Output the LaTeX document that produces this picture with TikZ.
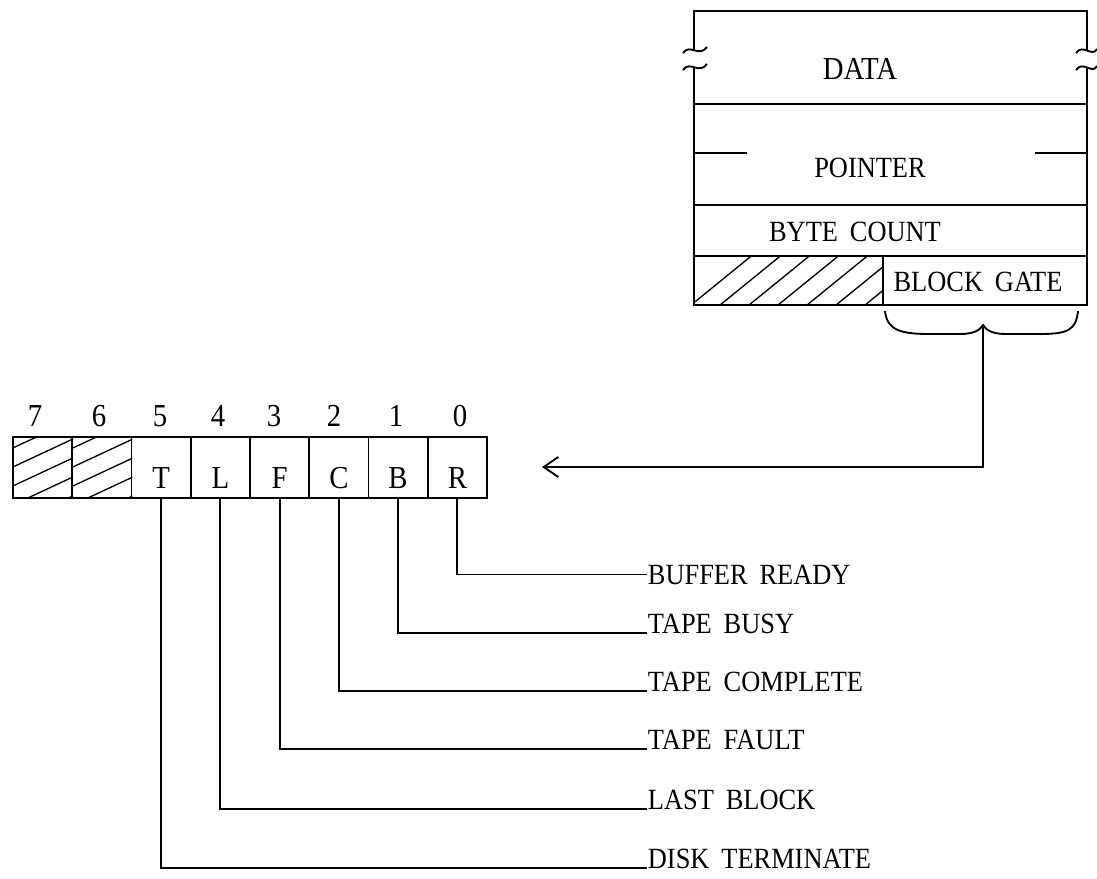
\documentclass[tikz,border=0pt]{standalone}
\usepackage{fontspec}
\setmainfont{Liberation Serif}[FakeStretch=0.9,WordSpace=1.8]
\usetikzlibrary{arrows.meta}
\begin{document}
\begin{tikzpicture}[x=0.75pt,y=-0.75pt,line width=1.4pt,
  txt/.style={inner sep=0pt,font=\fontsize{22}{26}\selectfont},
  big/.style={inner sep=0pt,font=\fontsize{24}{28}\selectfont},
  cellbox/.style={draw,inner sep=0pt,minimum width=44.44pt,minimum height=45.75pt},
  lbl/.style={txt,anchor=base west},
  leader/.style={line width=1.4pt},
  hatch/.style={line width=1pt}]
\useasboundingbox (0,0) rectangle (1097,879);

% ---------- memory block ----------
\draw (694,50) -- (694,11) -- (1087,11) -- (1087,50);
\draw (694,68) -- (694,305) -- (1087,305) -- (1087,68);
\draw (683,53) .. controls (690,43) and (699,58) .. (707,47);
\draw (683,70) .. controls (690,60) and (699,75) .. (707,64);
\draw (1076,53) .. controls (1083,43) and (1092,58) .. (1097,49);
\draw (1076,70) .. controls (1083,60) and (1092,75) .. (1097,66);
\draw (694,104) -- (1087,104);
\draw (694,205) -- (1087,205);
\draw (694,256) -- (1087,256);
\draw (883,256) -- (883,305);
\draw (694,153) -- (747,153);
\draw (1035,153) -- (1087,153);
\node[big] (data) at (860,69) {DATA};
\node[txt] (pointer) at (870,168) {POINTER};
\node[txt] (bytecount) at (855,232) {BYTE COUNT};
\node[txt] (blockgate) at (978,282) {BLOCK GATE};
\begin{scope}
  \clip (694,256) rectangle (883,305);
  \foreach \k in {0,...,9}
    \draw[hatch] (680+\k*29,314) -- (680+\k*29+75,253);
\end{scope}

% brace
\coordinate (bracetip) at (983,325);
\draw (885,311) .. controls (887,330) and (900,334) .. (930,334)
  -- (960,334) .. controls (974,334) and (980,330) .. (bracetip)
  .. controls (986,330) and (992,334) .. (1006,334)
  -- (1040,334) .. controls (1068,334) and (1076,330) .. (1078,311);
\coordinate (bend) at (983,467);
\coordinate (arrowtip) at (542,467);
\draw[-{Straight Barb[length=11pt,width=15pt,line width=1.4pt]}] (bracetip) -- (bend) -- (arrowtip);

% ---------- register ----------
\foreach \n/\x in {7/42.6,6/101.9,5/161.1,4/220.4,3/279.6,2/338.9,1/398.1,0/457.4}
  \node[cellbox] (c\n) at (\x,467.5) {};
\foreach \n/\x in {7/35,6/99,5/160,4/218,3/274,2/334,1/396,0/460}
  \node[big] (n\n) at (\x,416) {\n};
\foreach \n/\t in {5/T,4/L,3/F,2/C,1/B,0/R}
  \node[big] (t\n) at ([yshift=-8pt]c\n.center) {\t};
\begin{scope}
  \clip (c7.north west) rectangle (c7.south east);
  \foreach \k in {0,...,6}
    \draw[hatch] (0,530-\k*19) -- (90,488-\k*19);
\end{scope}
\begin{scope}
  \clip (c6.north west) rectangle (c6.south east);
  \foreach \k in {0,...,6}
    \draw[hatch] (60,530-\k*19) -- (150,488-\k*19);
\end{scope}

% ---------- labels ----------
\node[lbl] (l0) at (647,584) {BUFFER READY};
\node[lbl] (l1) at (647,633) {TAPE BUSY};
\node[lbl] (l2) at (647,691) {TAPE COMPLETE};
\node[lbl] (l3) at (647,749) {TAPE FAULT};
\node[lbl] (l4) at (647,809) {LAST BLOCK};
\node[lbl] (l5) at (647,868) {DISK TERMINATE};
\draw[leader] (c0.south) |- (l0.west);
\foreach \n in {1,...,5}
  \draw[leader] (c\n.south) |- (l\n.base west);
\end{tikzpicture}
\end{document}
